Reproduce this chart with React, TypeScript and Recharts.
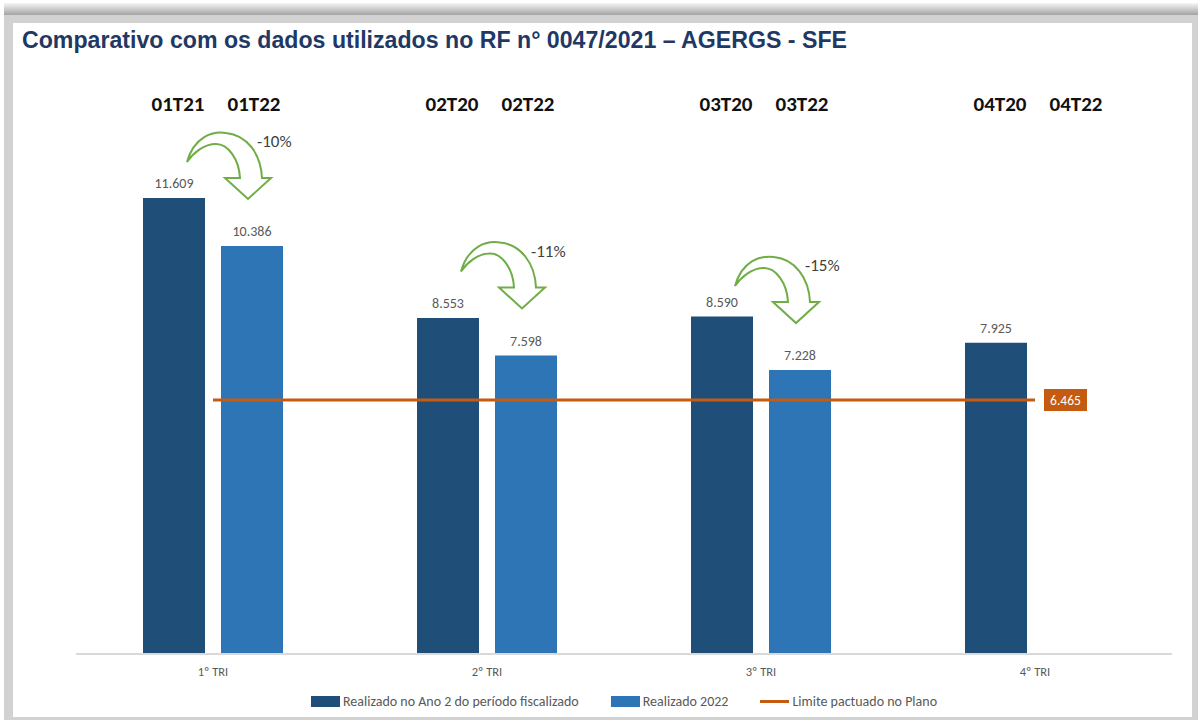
import { Bar, ComposedChart, LabelList, Line, XAxis, YAxis } from "recharts";

const categories = ["1º TRI", "2º TRI", "3º TRI", "4º TRI"];
const realizadoAno2 = [11.609, 8.553, 8.59, 7.925];
const realizado2022: (number | null)[] = [10.386, 7.598, 7.228, null];
const limitePlano = [6.465, 6.465, 6.465, 6.465];
const headerAno2 = ["01T21", "02T20", "03T20", "04T20"];
const header2022 = ["01T22", "02T22", "03T22", "04T22"];
const variacao = ["-10%", "-11%", "-15%"];

const data = categories.map((tri, i) => ({
  tri,
  ano2: realizadoAno2[i],
  r2022: realizado2022[i],
  limite: limitePlano[i],
}));

const DARK = "#1F4E79";
const LIGHT = "#2E75B6";
const ORANGE = "#C55A11";
const GREEN = "#70AD47";
const FONT = "Carlito, Lato, sans-serif";

const BAR = 62;
const GAP = 16;
const half = (BAR + GAP) / 2;

const fmt = (v: any) => (v == null ? "" : Number(v).toFixed(3));

// bottom tick + the period headers above each pair of bars
const TriTick = (props: any) => {
  const { x, y, payload } = props;
  const i = payload.index ?? props.index;
  return (
    <g>
      <text x={x} y={y + 22} textAnchor="middle" fontSize={12.5} fill="#595959" fontFamily={FONT}>
        {payload.value}
      </text>
      <text x={x - half + 4} y={111} textAnchor="middle" fontSize={21} fontWeight="bold" fill="#111" fontFamily={FONT}>
        {headerAno2[i]}
      </text>
      <text x={x + half + 2} y={111} textAnchor="middle" fontSize={21} fontWeight="bold" fill="#111" fontFamily={FONT}>
        {header2022[i]}
      </text>
    </g>
  );
};

const ValorLabel = (props: any) => {
  const { x, y, width, value } = props;
  if (value == null || y == null) return null;
  return (
    <text x={x + width / 2} y={y - 10} textAnchor="middle" fontSize={14} fill="#595959" fontFamily={FONT}>
      {fmt(value)}
    </text>
  );
};

// green curved arrow above the 2022 bar
const Seta = (props: any) => {
  const { x, y, width, index } = props;
  if (index >= variacao.length || y == null) return null;
  const tx = x + width / 2 - 4;
  const ty = y - 47;
  const d =
    "M -61,-37 C -54,-62 -36,-68 -22,-66 C -1,-64 13,-45 14,-21 L 23,-21 L 0,0 L -23,-21 L -8,-21 " +
    "C -9,-40 -20,-55 -32,-55 C -44,-55 -55,-46 -61,-37 Z";
  return (
    <g>
      <path d={d} transform={`translate(${tx},${ty})`} fill="#fff" stroke={GREEN} strokeWidth={2} />
      <text x={tx + 9} y={ty - 52} fontSize={17} fill="#404040" fontFamily={FONT}>
        {variacao[index]}
      </text>
    </g>
  );
};

const LimiteLabel = (props: any) => {
  const { x, y, index, value } = props;
  if (index !== limitePlano.length - 1) return null;
  return (
    <g>
      <rect x={x + 9} y={y - 11} width={43} height={22} fill={ORANGE} />
      <text x={x + 30.5} y={y + 5} textAnchor="middle" fontSize={13.5} fill="#fff" fontFamily={FONT}>
        {fmt(value)}
      </text>
    </g>
  );
};

const legendItems = [
  { label: "Realizado no Ano 2 do período fiscalizado", color: DARK, kind: "box" },
  { label: "Realizado 2022", color: LIGHT, kind: "box" },
  { label: "Limite pactuado no Plano", color: ORANGE, kind: "line" },
];

export default function App() {
  return (
    <div style={{ position: "absolute", left: 0, top: 0, width: 1198, height: 720, background: "#fff", overflow: "hidden" }}>
      <div style={{ position: "absolute", left: 4, top: 3, width: 1194, height: 13, background: "linear-gradient(#f6f6f6, #9c9c9c)" }} />
      <div style={{ position: "absolute", left: 4, top: 15, width: 1194, height: 705, background: "#d2d2d2" }} />
      <div style={{ position: "absolute", left: 13, top: 23, width: 1179, height: 694, background: "#fff" }} />

      <svg style={{ position: "absolute", left: 0, top: 0 }} width={1198} height={60}>
        <text
          x={22}
          y={48}
          fontSize={23}
          fontWeight="bold"
          fill="#1F3864"
          fontFamily="'Liberation Sans', Arial, sans-serif"
          textLength={825}
          lengthAdjust="spacingAndGlyphs"
        >
          Comparativo com os dados utilizados no RF n° 0047/2021 – AGERGS - SFE
        </text>
      </svg>

      <div style={{ position: "absolute", left: 0, top: 0 }}>
        <ComposedChart
          width={1198}
          height={720}
          data={data}
          margin={{ top: 104, right: 26, left: 76, bottom: 0 }}
          barSize={BAR}
          barGap={GAP}
        >
          <XAxis
            dataKey="tri"
            height={66}
            tickLine={false}
            tickSize={0}
            tickMargin={0}
            axisLine={{ stroke: "#d9d9d9", strokeWidth: 2 }}
            tick={<TriTick />}
            interval={0}
          />
          <YAxis hide domain={[0, 14]} />
          <Bar dataKey="ano2" fill={DARK} isAnimationActive={false}>
            <LabelList dataKey="ano2" content={<ValorLabel />} />
          </Bar>
          <Bar dataKey="r2022" fill={LIGHT} isAnimationActive={false}>
            <LabelList dataKey="r2022" content={<ValorLabel />} />
            <LabelList dataKey="r2022" content={<Seta />} />
          </Bar>
          <Line
            type="linear"
            dataKey="limite"
            stroke={ORANGE}
            strokeWidth={3}
            dot={false}
            activeDot={false}
            isAnimationActive={false}
          >
            <LabelList dataKey="limite" content={<LimiteLabel />} />
          </Line>
        </ComposedChart>
      </div>

      <div
        style={{
          position: "absolute",
          left: 76,
          width: 1096,
          top: 693,
          display: "flex",
          justifyContent: "center",
          alignItems: "center",
          gap: 32,
          fontFamily: FONT,
          fontSize: 14,
          color: "#595959",
        }}
      >
        {legendItems.map((it) => (
          <div key={it.label} style={{ display: "flex", alignItems: "center", gap: 3 }}>
            <span
              style={{
                display: "inline-block",
                width: 29,
                height: it.kind === "box" ? 11 : 3,
                background: it.color,
              }}
            />
            <span>{it.label}</span>
          </div>
        ))}
      </div>
    </div>
  );
}
